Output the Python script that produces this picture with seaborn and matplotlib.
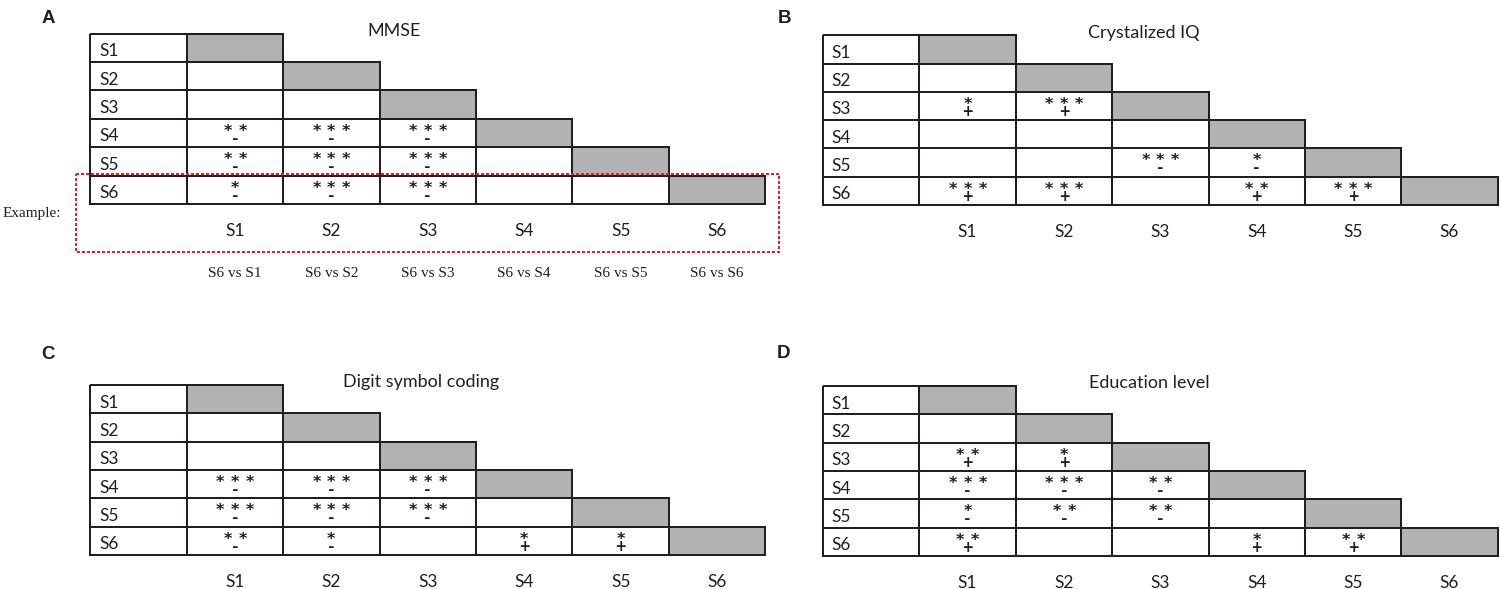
import matplotlib
matplotlib.use("Agg")
import numpy as np
import pandas as pd
import seaborn as sns
from matplotlib import pyplot as plt
from matplotlib.colors import ListedColormap, to_rgba
from matplotlib.patches import Rectangle

# groups compared in every panel
groups = ["S1", "S2", "S3", "S4", "S5", "S6"]

# lower-triangle cells: stars give the significance level, last sign the direction
mmse = [
    ["", "", "", "", "", ""],
    ["", "", "", "", "", ""],
    ["", "", "", "", "", ""],
    ["**-", "***-", "***-", "", "", ""],
    ["**-", "***-", "***-", "", "", ""],
    ["*-", "***-", "***-", "", "", ""],
]
crystalized_iq = [
    ["", "", "", "", "", ""],
    ["", "", "", "", "", ""],
    ["*+", "***+", "", "", "", ""],
    ["", "", "", "", "", ""],
    ["", "", "***-", "*-", "", ""],
    ["***+", "***+", "", "**+", "***+", ""],
]
digit_symbol = [
    ["", "", "", "", "", ""],
    ["", "", "", "", "", ""],
    ["", "", "", "", "", ""],
    ["***-", "***-", "***-", "", "", ""],
    ["***-", "***-", "***-", "", "", ""],
    ["**-", "*-", "", "*+", "*+", ""],
]
education = [
    ["", "", "", "", "", ""],
    ["", "", "", "", "", ""],
    ["**+", "*+", "", "", "", ""],
    ["***-", "***-", "**-", "", "", ""],
    ["*-", "**-", "**-", "", "", ""],
    ["**+", "", "", "*+", "**+", ""],
]

titles = ["MMSE", "Crystalized IQ", "Digit symbol coding", "Education level"]
letters = ["A", "B", "C", "D"]
panels = [mmse, crystalized_iq, digit_symbol, education]
example_labels = [f"S6 vs {g}" for g in groups]

W, H = 1500, 589
GREY = "#b1b2b4"
INK = "#231f20"
SANS = ["Lato", "DejaVu Sans"]
SERIF = ["Liberation Serif", "DejaVu Serif"]

# table boxes in pixels (left, top, right, bottom)
boxes = [
    (90.3, 33.7, 765.3, 204.0),
    (823.0, 35.3, 1497.7, 205.0),
    (90.3, 385.0, 765.3, 555.0),
    (823.0, 386.0, 1497.7, 556.0),
]
title_x = [3.15, 3.33, 3.43, 3.39]
letter_pos = [(41.7, 23.3), (777.7, 22.7), (41.7, 359.3), (777.0, 358.0)]

sns.set_theme(style="white")
plt.rcParams["font.family"] = SANS
plt.rcParams["text.color"] = INK

fig = plt.figure(figsize=(W / 100, H / 100), dpi=100)

n = len(groups)
cols = [""] + groups
state = np.array([[0] + [1 if j == i else 0 for j in range(n)] for i in range(n)])
mask = np.array([[False] + [j > i for j in range(n)] for i in range(n)])
cmap = ListedColormap(["white", GREY])
edge_colors = np.array([(0, 0, 0, 0) if m else to_rgba(INK) for m in mask.ravel()])

for k, cells in enumerate(panels):
    left, top, right, bottom = boxes[k]
    ax = fig.add_axes([left / W, 1 - bottom / H, (right - left) / W, (bottom - top) / H])
    df = pd.DataFrame(state, index=groups, columns=cols)
    sns.heatmap(
        df, mask=mask, cmap=cmap, vmin=0, vmax=1, cbar=False,
        linewidths=1.3, linecolor=INK, xticklabels=True, yticklabels=False, ax=ax,
    )
    mesh = ax.collections[0]
    mesh.set_edgecolor(edge_colors)
    mesh.set_clip_on(False)
    ax.set_xlabel("")
    ax.set_ylabel("")
    ax.tick_params(axis="x", length=0, pad=14, labelsize=12.5, labelcolor=INK, rotation=0)

    for i, g in enumerate(groups):
        ax.text(0.09, i + 0.62, g, ha="left", va="center", fontsize=12.5)
        for j in range(i):
            code = cells[i][j]
            if not code:
                continue
            stars = code.count("*")
            sign = code[-1]
            cx = j + 1.5
            for s in range(stars):
                ax.text(cx + (s - (stars - 1) / 2) * 0.155, i + 0.6, "*",
                        ha="center", va="baseline", fontsize=11.5,
                        fontweight="bold", family=["DejaVu Sans"])
            ax.text(cx, i + 0.92, sign, ha="center", va="baseline",
                    fontsize=13, fontweight="bold")

    ax.text(title_x[k], 0.08, titles[k], ha="center", va="baseline", fontsize=13)
    lx, ly = letter_pos[k]
    fig.text(lx / W, 1 - ly / H, letters[k], ha="left", va="baseline",
             fontsize=13.5, fontweight="bold", family=["Liberation Sans", "DejaVu Sans"])

    if k == 0:
        ax.add_patch(Rectangle((-0.148, 4.94), 7.292, 2.75, fill=False,
                               edgecolor="#ee1c25", linewidth=1.44,
                               linestyle=(0, (1.5, 1.0)), clip_on=False, zorder=5))
        ax.text(-0.906, 6.47, "Example:", ha="left", va="baseline",
                fontsize=11, family=SERIF)
        for j, lab in enumerate(example_labels):
            ax.text(j + 1.5, 8.57, lab, ha="center", va="baseline",
                    fontsize=11, family=SERIF)

fig.savefig("out.png", dpi=100)
